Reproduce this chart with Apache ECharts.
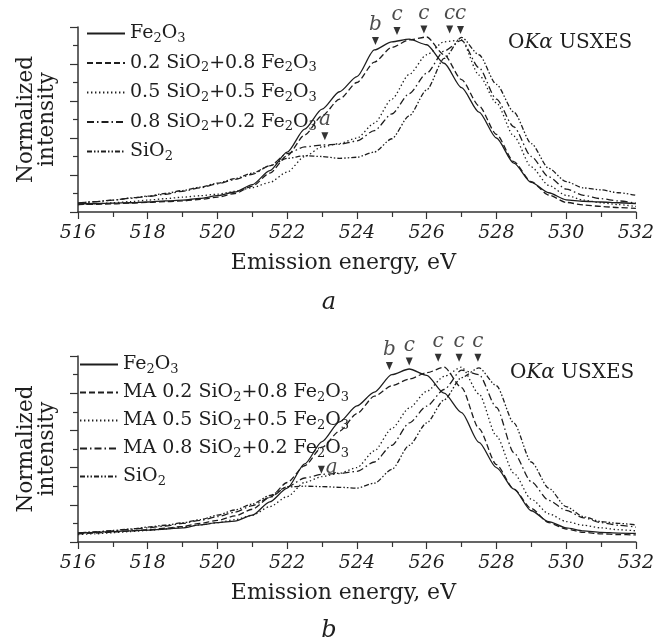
<!DOCTYPE html>
<html><head><meta charset="utf-8">
<script src="https://cdn.jsdelivr.net/npm/echarts@6/dist/echarts.min.js"></script>
<style>html,body{margin:0;padding:0;background:#fff}#c{width:657px;height:644px}</style>
</head><body><div id="c"></div>
<script>
// ---------- data ----------
const energy = [516,516.5,517,517.5,518,518.5,519,519.5,520,520.5,521,521.5,522,522.5,523,523.5,524,524.5,525,525.5,526,526.5,527,527.5,528,528.5,529,529.5,530,530.5,531,531.5,532];
const xTicks = [516,518,520,522,524,526,528,530,532];

const namesA = ['Fe2O3','0.2 SiO2+0.8 Fe2O3','0.5 SiO2+0.5 Fe2O3','0.8 SiO2+0.2 Fe2O3','SiO2'];
const namesB = ['Fe2O3','MA 0.2 SiO2+0.8 Fe2O3','MA 0.5 SiO2+0.5 Fe2O3','MA 0.8 SiO2+0.2 Fe2O3','SiO2'];

const fe2o3A = [0.22,0.23,0.24,0.25,0.27,0.3,0.32,0.37,0.44,0.54,0.74,1.12,1.62,2.24,2.78,3.25,3.66,4.38,4.6,4.67,4.52,4.02,3.36,2.70,2.0,1.32,0.8,0.52,0.33,0.29,0.27,0.25,0.23];
const mix02A = [0.2,0.21,0.22,0.24,0.26,0.28,0.3,0.34,0.4,0.5,0.7,1.05,1.52,2.08,2.6,3.05,3.5,4.05,4.45,4.65,4.73,4.25,3.58,2.87,2.1,1.36,0.82,0.46,0.26,0.19,0.15,0.12,0.1];
const mix05A = [0.2,0.22,0.25,0.28,0.32,0.36,0.4,0.44,0.48,0.56,0.66,0.8,1.08,1.5,1.76,1.85,2.0,2.4,3.05,3.72,4.25,4.6,4.65,3.7,2.95,2.05,1.22,0.72,0.45,0.32,0.25,0.2,0.15];
const mix08A = [0.24,0.28,0.32,0.37,0.42,0.48,0.56,0.65,0.76,0.88,1.02,1.25,1.58,1.76,1.81,1.83,1.92,2.2,2.65,3.2,3.75,4.35,4.64,3.9,3.05,2.3,1.5,0.95,0.62,0.45,0.36,0.3,0.24];
const sio2A  = [0.24,0.28,0.32,0.38,0.43,0.5,0.58,0.67,0.78,0.9,1.05,1.25,1.45,1.52,1.5,1.45,1.48,1.62,1.98,2.6,3.3,4.15,4.72,4.25,3.45,2.7,1.85,1.18,0.82,0.65,0.6,0.52,0.45];

const fe2o3B = [0.24,0.26,0.28,0.3,0.32,0.35,0.38,0.46,0.52,0.56,0.72,1.08,1.45,2.1,2.7,3.23,3.66,4.03,4.5,4.65,4.48,4.0,3.48,2.68,2.0,1.42,0.84,0.55,0.38,0.3,0.26,0.24,0.23];
const mix02B = [0.22,0.24,0.27,0.3,0.33,0.37,0.42,0.5,0.58,0.7,0.88,1.2,1.6,2.05,2.55,2.98,3.45,3.92,4.2,4.38,4.55,4.7,4.15,3.05,2.08,1.42,0.9,0.52,0.35,0.26,0.22,0.2,0.19];
const mix05B = [0.2,0.22,0.25,0.28,0.31,0.35,0.4,0.46,0.52,0.6,0.72,0.95,1.22,1.6,1.76,1.85,2.0,2.45,3.05,3.6,4.05,4.45,4.7,3.98,2.85,1.85,1.15,0.76,0.55,0.45,0.38,0.33,0.3];
const mix08B = [0.24,0.27,0.3,0.34,0.38,0.43,0.5,0.58,0.68,0.8,0.98,1.2,1.48,1.72,1.82,1.84,1.9,2.15,2.6,3.2,3.65,4.1,4.62,4.5,3.62,2.4,1.62,1.12,0.85,0.65,0.52,0.45,0.4];
const sio2B  = [0.24,0.27,0.31,0.35,0.4,0.45,0.52,0.6,0.72,0.86,1.02,1.25,1.48,1.5,1.49,1.47,1.45,1.58,1.95,2.6,3.2,3.82,4.42,4.68,4.2,3.2,2.15,1.45,0.95,0.68,0.55,0.5,0.46];

const markA_E = [524.53,525.15,525.92,526.66,526.97,523.08];
const markA_V = [4.62,4.89,4.93,4.93,4.92,2.05];
const markA_L = ['b','c','c','c','c','a'];
const markB_E = [524.93,525.5,526.33,526.93,527.47,522.98];
const markB_V = [4.73,4.85,4.95,4.95,4.95,1.94];
const markB_L = ['b','c','c','c','c','a'];

const panelLabels = ['a','b'];

// ---------- styles ----------
const INK = '#1e1e1e';
const SERIF = 'DejaVu Serif';
const dashes = ['solid',[6,3],[1.4,2.6],[7,3,1.5,3],[5,2,1.5,2,1.5,2]];

function subFmt(name){ return name.replace(/([A-Za-z])(\d)/g, '$1{s|$2}'); }

function lineSeries(names, arrays, idx){
  return arrays.map((arr,k)=>({
    type:'line', name:names[k], xAxisIndex:idx, yAxisIndex:idx,
    data: energy.map((e,i)=>[e, arr[i]]),
    symbol:'none', showSymbol:false, smooth:0.25, smoothMonotone:'x',
    lineStyle:{color:INK, width:1.3, type:dashes[k], cap:'butt'},
    itemStyle:{color:INK},
    emphasis:{disabled:true}, z:2
  }));
}
function markSeries(E,V,L,idx,aRight){
  return {
    type:'scatter', xAxisIndex:idx, yAxisIndex:idx, clip:false, z:5,
    symbol:'triangle', symbolRotate:180, symbolSize:[7,8],
    itemStyle:{color:'#000'},
    data: E.map((e,i)=>{
      const d = {value:[e, V[i]], name:L[i]};
      if (aRight && L[i]==='a') d.label = {position:'right', distance:1, offset:[0,-2]};
      return d;
    }),
    label:{show:true, position:'top', distance:2, formatter:p=>p.name,
      fontFamily:SERIF, fontStyle:'italic', fontSize:20, color:INK},
    emphasis:{disabled:true}, silent:true
  };
}
function xAxis(idx){
  return {gridIndex:idx, type:'value', min:516, max:532, interval:2,
    axisLine:{show:true, lineStyle:{color:'#333', width:1.5}},
    axisTick:{show:true, length:7, lineStyle:{color:'#333', width:1.2}},
    minorTick:{show:true, splitNumber:2, length:5, lineStyle:{color:'#333', width:1.2}},
    splitLine:{show:false}, minorSplitLine:{show:false},
    axisLabel:{fontFamily:SERIF, fontStyle:'italic', fontSize:19, color:INK, margin:12,
      formatter:v=> xTicks.indexOf(v)>=0 ? String(v) : ''},
    name:'Emission energy, eV', nameLocation:'middle', nameGap:40,
    nameTextStyle:{fontFamily:SERIF, fontSize:22, color:INK, padding:[0,27,0,0]}};
}
function yAxis(idx){
  return {gridIndex:idx, type:'value', min:0, max:5, interval:1,
    axisLine:{show:true, lineStyle:{color:'#333', width:1.5}},
    axisTick:{show:true, length:8, lineStyle:{color:'#333', width:1.2}},
    minorTick:{show:true, splitNumber:2, length:5, lineStyle:{color:'#333', width:1.2}},
    splitLine:{show:false}, minorSplitLine:{show:false},
    axisLabel:{show:false},
    name:'Normalized\nintensity', nameLocation:'middle', nameGap:20, nameRotate:90,
    nameTextStyle:{fontFamily:SERIF, fontSize:21.5, color:INK, lineHeight:21}};
}
function legend(names, left, top, gap){
  return {data:names, orient:'vertical', left:left, top:top, itemWidth:38, itemHeight:10, itemGap:gap,
    padding:0, selectedMode:false,
    itemStyle:{opacity:0},
    formatter:subFmt,
    textStyle:{fontFamily:SERIF, fontSize:19, color:INK,
      rich:{s:{fontFamily:SERIF, fontSize:13, color:INK, verticalAlign:'bottom', padding:[10,0,0,0]}}}};
}

const chart = echarts.init(document.getElementById('c'), null, {renderer:'canvas'});
chart.setOption({
  animation:false,
  backgroundColor:'#fff',
  grid:[{left:78, top:27, width:562, height:185},{left:78, top:356, width:562, height:186}],
  xAxis:[xAxis(0), xAxis(1)],
  yAxis:[yAxis(0), yAxis(1)],
  legend:[legend(namesA, 86, 24, 8.5), legend(namesB, 79, 355, 7)],
  series:[].concat(
    lineSeries(namesA,[fe2o3A,mix02A,mix05A,mix08A,sio2A],0),
    lineSeries(namesB,[fe2o3B,mix02B,mix05B,mix08B,sio2B],1),
    [markSeries(markA_E,markA_V,markA_L,0,false), markSeries(markB_E,markB_V,markB_L,1,true)]
  ),
  graphic:[
    {type:'text', x:508, y:43, style:{text:'O{k|K}{al|α} USXES', fill:INK, font:'20px "DejaVu Serif"', verticalAlign:'middle',
      rich:{k:{fontFamily:SERIF, fontStyle:'italic', fontSize:20, fill:INK}, al:{fontFamily:SERIF, fontStyle:'italic', fontSize:20, fill:INK}}}},
    {type:'text', x:510, y:373, style:{text:'O{k|K}{al|α} USXES', fill:INK, font:'20px "DejaVu Serif"', verticalAlign:'middle',
      rich:{k:{fontFamily:SERIF, fontStyle:'italic', fontSize:20, fill:INK}, al:{fontFamily:SERIF, fontStyle:'italic', fontSize:20, fill:INK}}}},
    {type:'text', x:329, y:303, style:{text:panelLabels[0], fill:INK, font:'italic 24px "DejaVu Serif"', align:'center', verticalAlign:'middle'}},
    {type:'text', x:329, y:631, style:{text:panelLabels[1], fill:INK, font:'italic 24px "DejaVu Serif"', align:'center', verticalAlign:'middle'}}
  ]
});
</script>
</body></html>
